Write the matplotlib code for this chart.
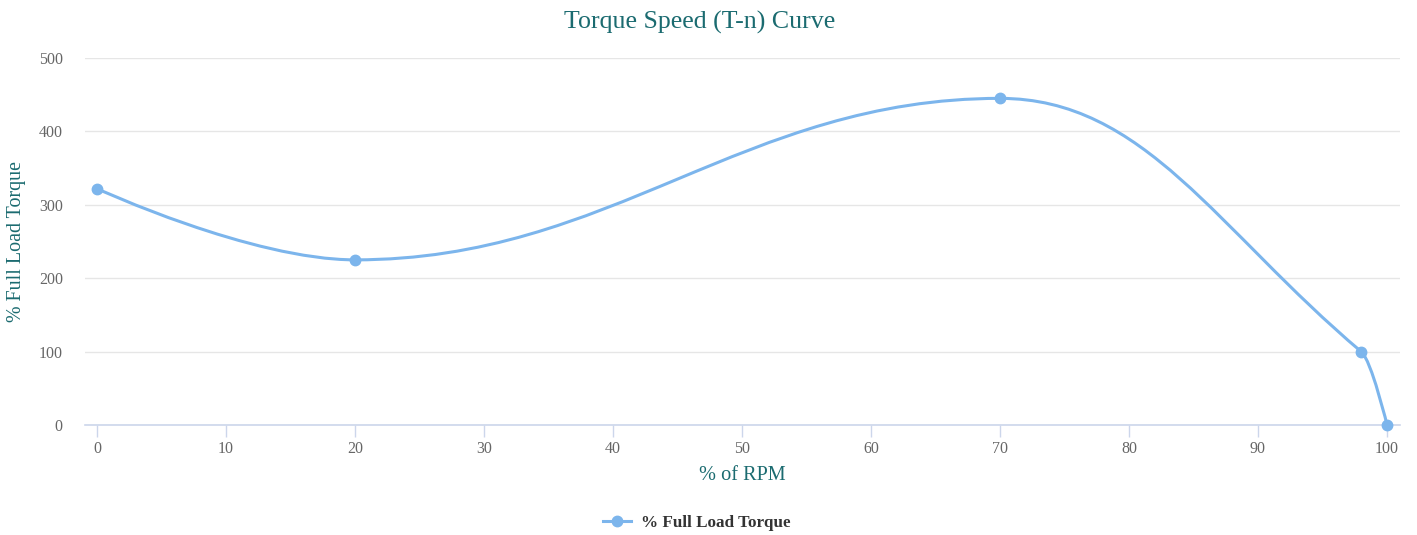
import matplotlib
matplotlib.use("Agg")
import matplotlib.pyplot as plt
from matplotlib.path import Path
from matplotlib.patches import PathPatch
from matplotlib.lines import Line2D

# ---- data ----
rpm_pct = [0, 20, 70, 98, 100]
torque_pct = [322, 225, 445, 100, 0]
x_ticks = [0, 10, 20, 30, 40, 50, 60, 70, 80, 90, 100]
y_ticks = [0, 100, 200, 300, 400, 500]
title = "Torque Speed (T-n) Curve"
x_label = "% of RPM"
y_label = "% Full Load Torque"
series_name = "% Full Load Torque"

LINE = "#7cb5ec"
TEAL = "#1b6b70"
FONT = "Liberation Serif"
W, H = 1417, 535

fig = plt.figure(figsize=(W / 100, H / 100), dpi=100)
L, R, B, T = 85, 1400, 425, 58
ax = fig.add_axes([L / W, 1 - B / H, (R - L) / W, (B - T) / H])


def spline_path(xs, ys, smoothing=1.5):
    """Highcharts-style spline control points (affine invariant)."""
    n = len(xs)
    denom = smoothing + 1
    ctrl = []
    for i in range(n):
        if 0 < i < n - 1:
            px, py = xs[i], ys[i]
            lx, ly = xs[i - 1], ys[i - 1]
            nx, ny = xs[i + 1], ys[i + 1]
            lcx = (smoothing * px + lx) / denom
            lcy = (smoothing * py + ly) / denom
            rcx = (smoothing * px + nx) / denom
            rcy = (smoothing * py + ny) / denom
            corr = ((rcy - lcy) * (rcx - px)) / (rcx - lcx) + py - rcy
            lcy += corr
            rcy += corr
            if lcy > ly and lcy > py:
                lcy = max(ly, py)
                rcy = 2 * py - lcy
            elif lcy < ly and lcy < py:
                lcy = min(ly, py)
                rcy = 2 * py - lcy
            if rcy > ny and rcy > py:
                rcy = max(ny, py)
                lcy = 2 * py - rcy
            elif rcy < ny and rcy < py:
                rcy = min(ny, py)
                lcy = 2 * py - rcy
            ctrl.append(((lcx, lcy), (rcx, rcy)))
        else:
            ctrl.append(((xs[i], ys[i]), (xs[i], ys[i])))
    verts = [(xs[0], ys[0])]
    codes = [Path.MOVETO]
    for i in range(1, n):
        verts += [ctrl[i - 1][1], ctrl[i][0], (xs[i], ys[i])]
        codes += [Path.CURVE4] * 3
    return Path(verts, codes)


ax.add_patch(PathPatch(spline_path(rpm_pct, torque_pct), facecolor="none",
                       edgecolor=LINE, lw=2.2, capstyle="round", joinstyle="round", zorder=3))
ax.plot(rpm_pct, torque_pct, linestyle="none", marker="o", ms=7.5, color=LINE,
        mec=LINE, zorder=4, clip_on=False)

xmin = (L - 97) / 12.9
xmax = (R - 97) / 12.9
ax.set_xlim(xmin, xmax)
ax.set_ylim(0, 500)

ax.set_yticks(y_ticks)
ax.set_xticks(x_ticks)
ax.grid(axis="y", color="#e6e6e6", lw=1)
ax.set_axisbelow(True)
for s in ["top", "right", "left"]:
    ax.spines[s].set_visible(False)
ax.spines["bottom"].set_color("#ccd6eb")
ax.spines["bottom"].set_linewidth(1.2)

ax.tick_params(axis="y", length=0, pad=16, labelsize=11.5, labelcolor="#666666")
ax.tick_params(axis="x", length=8.5, width=1, color="#ccd6eb", pad=3,
               labelsize=11.5, labelcolor="#666666")
for lbl in ax.get_xticklabels() + ax.get_yticklabels():
    lbl.set_fontfamily(FONT)

fig.text(700 / W, 1 - 22 / H, title, ha="center", va="center", fontsize=18.6,
         color=TEAL, family=FONT)
fig.text(742 / W, 1 - 476 / H, x_label, ha="center", va="center", fontsize=14.6,
         color=TEAL, family=FONT)
fig.text(17 / W, 1 - 241 / H, y_label, ha="center", va="center", fontsize=14.4,
         color=TEAL, family=FONT, rotation=90)

# legend
handle = Line2D([], [], color=LINE, lw=2.2, marker="o", ms=7.5)
leg = fig.legend([handle], [series_name], loc="center", bbox_to_anchor=(697 / W, 1 - 523 / H),
                 frameon=False, handlelength=1.6, handletextpad=0.6,
                 prop={"family": FONT, "weight": "bold", "size": 12.3})
for t in leg.get_texts():
    t.set_color("#333333")

fig.savefig("out.png", dpi=100, facecolor="white")
